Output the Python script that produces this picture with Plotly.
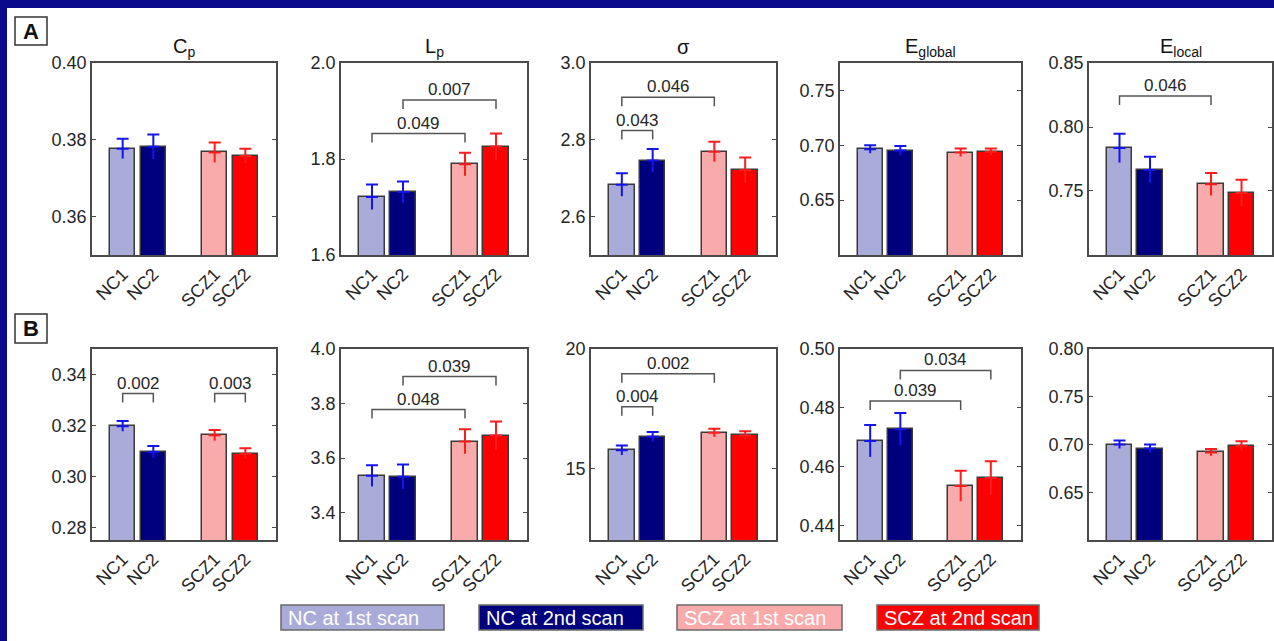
import plotly.graph_objects as go

W, H = 1274, 641

# ---------------------------------------------------------------- data
categories = ["NC1", "NC2", "SCZ1", "SCZ2"]
legend_labels = ["NC at 1st scan", "NC at 2nd scan", "SCZ at 1st scan", "SCZ at 2nd scan"]
metric_titles = ["C<sub>p</sub>", "L<sub>p</sub>", "σ", "E<sub>global</sub>", "E<sub>local</sub>"]
row_labels = ["A", "B"]

# row A: mean and s.e.m. for NC1, NC2, SCZ1, SCZ2
cp_a_mean = [0.3777, 0.3782, 0.3767, 0.3758]
cp_a_err = [0.0026, 0.0032, 0.0026, 0.0019]
lp_a_mean = [1.721, 1.731, 1.789, 1.826]
lp_a_err = [0.026, 0.022, 0.024, 0.027]
sigma_a_mean = [2.683, 2.746, 2.769, 2.721]
sigma_a_err = [0.030, 0.030, 0.026, 0.033]
eglob_a_mean = [0.6964, 0.6952, 0.6934, 0.6940]
eglob_a_err = [0.0036, 0.0042, 0.0036, 0.0030]
eloc_a_mean = [0.7835, 0.7665, 0.7552, 0.7485]
eloc_a_err = [0.0113, 0.0103, 0.0088, 0.0103]

# row B
cp_b_mean = [0.3197, 0.3096, 0.3161, 0.3089]
cp_b_err = [0.0020, 0.0023, 0.0021, 0.0021]
lp_b_mean = [3.535, 3.532, 3.661, 3.683]
lp_b_err = [0.039, 0.045, 0.045, 0.051]
sigma_b_mean = [15.76, 16.32, 16.49, 16.38]
sigma_b_err = [0.20, 0.20, 0.17, 0.17]
eglob_b_mean = [0.4687, 0.4727, 0.4534, 0.4561]
eglob_b_err = [0.0054, 0.0055, 0.0052, 0.0057]
eloc_b_mean = [0.7000, 0.6958, 0.6917, 0.6986]
eloc_b_err = [0.0042, 0.0042, 0.0035, 0.0049]

# significant pairwise comparisons: (row, metric, bar i, bar j, p-value)
comparisons = [
    (0, 1, 0, 2, "0.049"), (0, 1, 1, 3, "0.007"),
    (0, 2, 0, 1, "0.043"), (0, 2, 0, 2, "0.046"),
    (0, 4, 0, 2, "0.046"),
    (1, 0, 0, 1, "0.002"), (1, 0, 2, 3, "0.003"),
    (1, 1, 0, 2, "0.048"), (1, 1, 1, 3, "0.039"),
    (1, 2, 0, 1, "0.004"), (1, 2, 0, 2, "0.002"),
    (1, 3, 0, 2, "0.039"), (1, 3, 1, 3, "0.034"),
]

yticks_a = [[0.36, 0.38, 0.40], [1.6, 1.8, 2.0], [2.6, 2.8, 3.0], [0.65, 0.70, 0.75], [0.75, 0.80, 0.85]]
yticks_b = [[0.28, 0.30, 0.32, 0.34], [3.4, 3.6, 3.8, 4.0], [15, 20], [0.44, 0.46, 0.48, 0.50],
            [0.65, 0.70, 0.75, 0.80]]

means = [[cp_a_mean, lp_a_mean, sigma_a_mean, eglob_a_mean, eloc_a_mean],
         [cp_b_mean, lp_b_mean, sigma_b_mean, eglob_b_mean, eloc_b_mean]]
errs = [[cp_a_err, lp_a_err, sigma_a_err, eglob_a_err, eloc_a_err],
        [cp_b_err, lp_b_err, sigma_b_err, eglob_b_err, eloc_b_err]]
yticks = [yticks_a, yticks_b]

# ---------------------------------------------------------------- layout spec
y_ranges = [[(0.35, 0.40), (1.6, 2.0), (2.5, 3.0), (0.60, 0.775), (0.70, 0.85)],
            [(0.275, 0.35), (3.3, 4.0), (12, 20), (0.435, 0.50), (0.60, 0.80)]]
tick_formats = [[".2f", ".1f", ".1f", ".2f", ".2f"],
                [".2f", ".1f", "d", ".2f", ".2f"]]
# height of each comparison bracket's horizontal line (same order as comparisons)
bracket_levels = [1.853, 1.923, 2.824, 2.911, 0.8242,
                  0.3325, 0.3325, 3.778, 3.899, 17.58, 18.96, 0.4823, 0.4927]

col_px = [(92, 276), (341, 527), (591, 776), (840, 1021), (1089, 1272)]
row_px = [(63, 255), (349, 540)]

bar_fill = ["#a9acd8", "#00007f", "#f9aaaa", "#fd0000"]
err_color = ["#1414ee", "#ff1c1c"]
edge = "#3a3a3a"
txt = "#262626"
FONT = "Arial, Liberation Sans, sans-serif"

# bar slots: two scans per group with an empty slot between the groups
n_scan = 2
slots = [g * (n_scan + 1) + s + 1 for g in range(2) for s in range(n_scan)]


def px_x(v):
    return v / W


def px_y(v):
    return 1 - v / H


fig = go.Figure()
shapes = []
annotations = []
layout_axes = {}

for r in range(2):
    for c in range(5):
        k = r * 5 + c + 1
        xa = "x" if k == 1 else f"x{k}"
        ya = "y" if k == 1 else f"y{k}"
        m = means[r][c]
        e = errs[r][c]
        lo, hi = y_ranges[r][c]
        pad = (hi - lo) * 1e-4

        for g in range(2):
            idx = [g * n_scan + s for s in range(n_scan)]
            xs = [slots[i] for i in idx]
            ys = [m[i] for i in idx]
            es = [e[i] for i in idx]
            fig.add_trace(go.Bar(
                x=xs, y=ys, width=0.83, xaxis=xa, yaxis=ya,
                marker=dict(color=[bar_fill[i] for i in idx], line=dict(color=edge, width=1.5)),
                error_y=dict(type="data", array=es, arrayminus=[0] * len(es), symmetric=False,
                             color=err_color[g], thickness=2, width=6),
                showlegend=False, hoverinfo="skip",
            ))
            # lower half of each error bar, drawn over the bar without a cap
            lx, ly = [], []
            for xv, yv, ev in zip(xs, ys, es):
                lx += [xv, xv, None]
                ly += [yv - ev, yv, None]
            fig.add_trace(go.Scatter(
                x=lx, y=ly, mode="lines", xaxis=xa, yaxis=ya,
                line=dict(color=err_color[g], width=2),
                showlegend=False, hoverinfo="skip",
            ))

        x0, x1 = col_px[c]
        t0, t1 = row_px[r]
        axkey = "xaxis" if k == 1 else f"xaxis{k}"
        aykey = "yaxis" if k == 1 else f"yaxis{k}"
        layout_axes[axkey] = dict(
            domain=[px_x(x0), px_x(x1)], anchor=ya, range=[0, 6], automargin=False,
            tickvals=slots, ticktext=categories, tickangle=-45,
            showline=True, mirror=True, linecolor="#4a4a4a", linewidth=1.5,
            ticks="", showgrid=False, zeroline=False,
            tickfont=dict(family=FONT, size=18, color=txt),
        )
        layout_axes[aykey] = dict(
            domain=[px_y(t1), px_y(t0)], anchor=xa, range=[lo - pad, hi + pad], automargin=False,
            tickvals=yticks[r][c], tickformat=tick_formats[r][c],
            showline=True, mirror="ticks", linecolor="#4a4a4a", linewidth=1.5,
            ticks="inside", ticklen=4, tickcolor="#4a4a4a", tickwidth=1,
            showgrid=False, zeroline=False,
            tickfont=dict(family=FONT, size=18, color=txt),
        )

        if r == 0:
            annotations.append(dict(
                x=px_x((x0 + x1) / 2), y=px_y(47), xref="paper", yref="paper",
                text=metric_titles[c], showarrow=False, xanchor="center", yanchor="middle",
                font=dict(family=FONT, size=20, color="#111111"),
            ))

# comparison brackets with p-values
tick_px = 9
for (r, c, i, j, p), level in zip(comparisons, bracket_levels):
    k = r * 5 + c + 1
    xa = "x" if k == 1 else f"x{k}"
    ya = "y" if k == 1 else f"y{k}"
    lo, hi = y_ranges[r][c]
    t0, t1 = row_px[r]
    drop = tick_px * (hi - lo) / (t1 - t0)
    xi, xj = slots[i], slots[j]
    shapes.append(dict(
        type="path", xref=xa, yref=ya,
        path=f"M {xi},{level - drop} L {xi},{level} L {xj},{level} L {xj},{level - drop}",
        line=dict(color="#555555", width=1.5),
    ))
    annotations.append(dict(
        x=(xi + xj) / 2, y=level, xref=xa, yref=ya, text=p, showarrow=False,
        xanchor="center", yanchor="bottom", yshift=-1,
        font=dict(family=FONT, size=17, color=txt),
    ))

# white slide area over the dark frame
shapes.insert(0, dict(type="rect", xref="paper", yref="paper", layer="below",
                      x0=px_x(7), x1=1, y0=0, y1=px_y(8),
                      fillcolor="white", line=dict(width=0)))

# panel letters
letter_boxes = [(15, 17, 47, 45), (15, 314, 47, 343)]
for lab, (bx0, by0, bx1, by1) in zip(row_labels, letter_boxes):
    shapes.append(dict(type="rect", xref="paper", yref="paper",
                       x0=px_x(bx0), x1=px_x(bx1), y0=px_y(by1), y1=px_y(by0),
                       fillcolor="white", line=dict(color="#333333", width=1.5)))
    annotations.append(dict(x=px_x((bx0 + bx1) / 2), y=px_y((by0 + by1) / 2),
                            xref="paper", yref="paper", text=f"<b>{lab}</b>", showarrow=False,
                            xanchor="center", yanchor="middle",
                            font=dict(family=FONT, size=22, color="#111111")))

# colour key along the bottom
key_px = [(281, 444), (479, 643), (677, 842), (877, 1039)]
key_top, key_bot = 605, 630
for lab, col, (kx0, kx1) in zip(legend_labels, bar_fill, key_px):
    shapes.append(dict(type="rect", xref="paper", yref="paper",
                       x0=px_x(kx0), x1=px_x(kx1), y0=px_y(key_bot), y1=px_y(key_top),
                       fillcolor=col, line=dict(color="#6a6a6a", width=1.5)))
    annotations.append(dict(x=px_x(kx0 + 5), y=px_y((key_top + key_bot) / 2),
                            xref="paper", yref="paper", text=lab, showarrow=False,
                            xanchor="left", yanchor="middle",
                            font=dict(family=FONT, size=20, color="white")))

fig.update_layout(
    width=W, height=H, margin=dict(l=0, r=0, t=0, b=0, pad=0), autosize=False,
    paper_bgcolor="#0a0a8c", plot_bgcolor="white",
    bargap=0, showlegend=False,
    shapes=shapes, annotations=annotations,
    **layout_axes,
)

fig.write_html("out.html")
